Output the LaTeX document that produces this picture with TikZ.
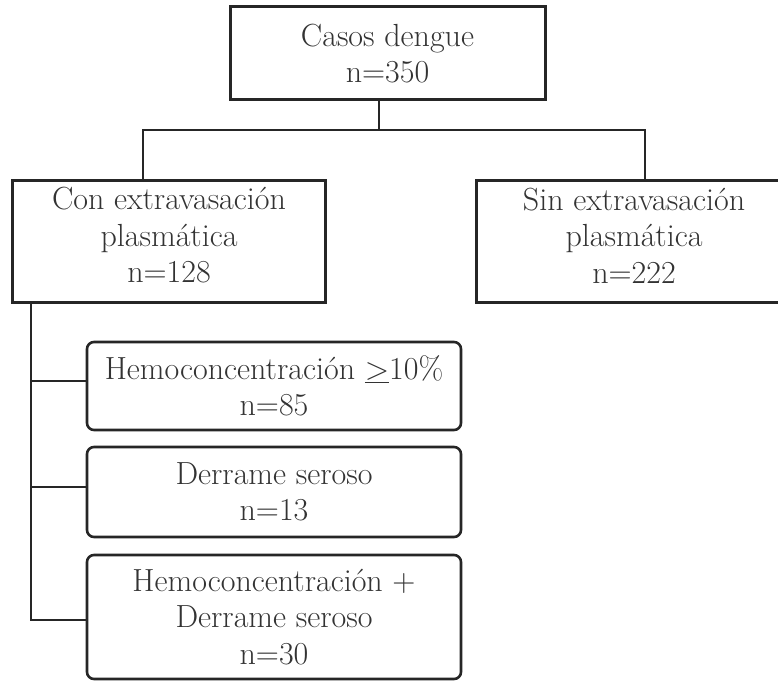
\documentclass[tikz,border=0pt]{standalone}
\usepackage{fontspec}
\setmainfont{Latin Modern Roman}
\definecolor{ink}{HTML}{262626}
\definecolor{txt}{HTML}{333333}
\begin{document}
\begin{tikzpicture}[x=1pt,y=-1pt,
  lbl/.style={font=\fontsize{32}{36.5}\selectfont, text=txt, align=center, inner sep=0pt},
  sqbox/.style={draw=ink, line width=3pt, inner sep=0pt},
  rbox/.style={lbl, draw=ink, line width=2.6pt, rounded corners=7pt, inner sep=0pt},
  conn/.style={draw=ink, line width=2.8pt}]
\clip (0,0) rectangle (778,682);
% boxes
\node[sqbox, lbl, minimum width=315pt, minimum height=93pt] (top) at (387.5,53.5) {Casos dengue\\n=350};
\node[sqbox, minimum width=313pt, minimum height=122pt] (left) at (168.5,241) {};
\node[lbl] (lefttext) at (169,235.5) {Con extravasación\\plasmática\\n=128};
\node[sqbox, minimum width=314pt, minimum height=122pt] (right) at (633,241) {};
\node[lbl] (righttext) at (634,235.5) {Sin extravasación\\plasmática\\n=222};
\node[rbox, minimum width=374pt, minimum height=88pt] (r1) at (274,386) {Hemoconcentración \underline{>}10\%\\n=85};
\node[rbox, minimum width=374pt, minimum height=90pt] (r2) at (274,492) {Derrame seroso\\n=13};
\node[rbox, minimum width=374pt, minimum height=124pt] (r3) at (274,617) {Hemoconcentración +\\Derrame seroso\\n=30};
% junctions
\coordinate (jm) at (379,130);
\coordinate (jl) at (143,130);
\coordinate (jr) at (645,130);
\coordinate (t1) at (31,381);
\coordinate (t2) at (31,487);
\coordinate (t3) at (31,620);
% connectors
\draw[conn] (top.south -| jm) -- (jm);
\draw[conn] (jl |- left.north) -- (jl) -- (jr) -- (jr |- right.north);
\draw[conn] (left.south -| t3) -- (t3) -- (t3 -| r3.west);
\draw[conn] (t1) -- (t1 -| r1.west);
\draw[conn] (t2) -- (t2 -| r2.west);
\end{tikzpicture}
\end{document}
